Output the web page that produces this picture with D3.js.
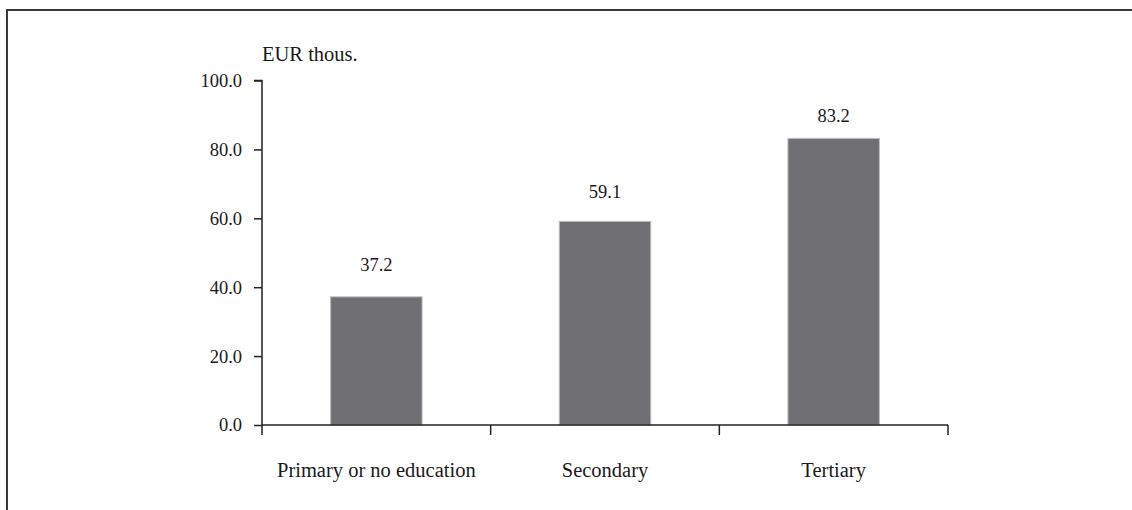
<!DOCTYPE html>
<html>
<head>
<meta charset="utf-8">
<script src="https://cdn.jsdelivr.net/npm/d3@7"></script>
<style>
  html, body { margin: 0; padding: 0; background: #fff; }
  svg { display: block; }
  text { font-family: "Liberation Serif", "DejaVu Serif", serif; fill: #1a1a1a; }
</style>
</head>
<body>
<svg id="chart" width="1132" height="510"></svg>
<script>
// Average value by education level (EUR thousands)
const categories = ["Primary or no education", "Secondary", "Tertiary"];
const values = [37.2, 59.1, 83.2];
const yTicks = [0, 20, 40, 60, 80, 100];
const unitLabel = "EUR thous.";

// Vertical gap between each value label and the top of its bar
const labelGap = [26, 23, 16];

const svg = d3.select("#chart");
const W = 1132, H = 510;
const numSize = 18.5, textSize = 20.5;

// Outer frame (open at right and bottom)
svg.append("path")
  .attr("d", `M7,${H + 5}V10H${W + 5}`)
  .attr("fill", "none")
  .attr("stroke", "#3a3a3a")
  .attr("stroke-width", 2);

const plot = { left: 262, right: 948, top: 80.5, bottom: 425 };

const x = d3.scaleBand()
  .domain(categories)
  .range([plot.left, plot.right])
  .padding(0);

const y = d3.scaleLinear()
  .domain([0, 100])
  .range([plot.bottom, plot.top]);

const barWidth = x.bandwidth() * 0.4;

// Bars
svg.append("g").selectAll("rect")
  .data(values)
  .join("rect")
  .attr("x", (d, i) => x(categories[i]) + (x.bandwidth() - barWidth) / 2)
  .attr("y", d => y(d))
  .attr("width", barWidth)
  .attr("height", d => y(0) - y(d))
  .attr("fill", "#6f6f73")
  .attr("stroke", "#bdbdbf")
  .attr("stroke-width", 1);

// Value labels
svg.append("g").selectAll("text")
  .data(values)
  .join("text")
  .attr("x", (d, i) => x(categories[i]) + x.bandwidth() / 2)
  .attr("y", (d, i) => y(d) - labelGap[i])
  .attr("text-anchor", "middle")
  .attr("font-size", numSize)
  .text(d => d.toFixed(1));

// Y axis
const yAxis = d3.axisLeft(y)
  .tickValues(yTicks)
  .tickSize(8)
  .tickPadding(12)
  .tickFormat(d3.format(".1f"));

const gy = svg.append("g")
  .attr("transform", `translate(${plot.left},0)`)
  .call(yAxis);
gy.select(".domain").attr("stroke", "#222").attr("stroke-width", 1.5)
  .attr("d", `M-8,${plot.top}H0V${plot.bottom}`);
gy.selectAll(".tick line").attr("stroke", "#222").attr("stroke-width", 1.5);
gy.selectAll(".tick text")
  .attr("font-size", numSize)
  .attr("font-family", "Liberation Serif, DejaVu Serif, serif")
  .attr("fill", "#1a1a1a");

// X axis: ticks on band boundaries
const boundaries = categories.map(c => x(c)).concat([x(categories[categories.length - 1]) + x.bandwidth()]);
const gx = svg.append("g");
gx.append("line")
  .attr("x1", plot.left).attr("x2", plot.right)
  .attr("y1", y(0)).attr("y2", y(0))
  .attr("stroke", "#222").attr("stroke-width", 1.5);
gx.selectAll("line.tick")
  .data(boundaries)
  .join("line")
  .attr("class", "tick")
  .attr("x1", d => d).attr("x2", d => d)
  .attr("y1", y(0)).attr("y2", y(0) + 10)
  .attr("stroke", "#222").attr("stroke-width", 1.5);
gx.selectAll("text")
  .data(categories)
  .join("text")
  .attr("x", d => x(d) + x.bandwidth() / 2)
  .attr("y", y(0) + 52)
  .attr("text-anchor", "middle")
  .attr("font-size", textSize)
  .text(d => d);

// Unit label
svg.append("text")
  .attr("x", plot.left)
  .attr("y", 61)
  .attr("font-size", textSize)
  .text(unitLabel);
</script>
</body>
</html>
